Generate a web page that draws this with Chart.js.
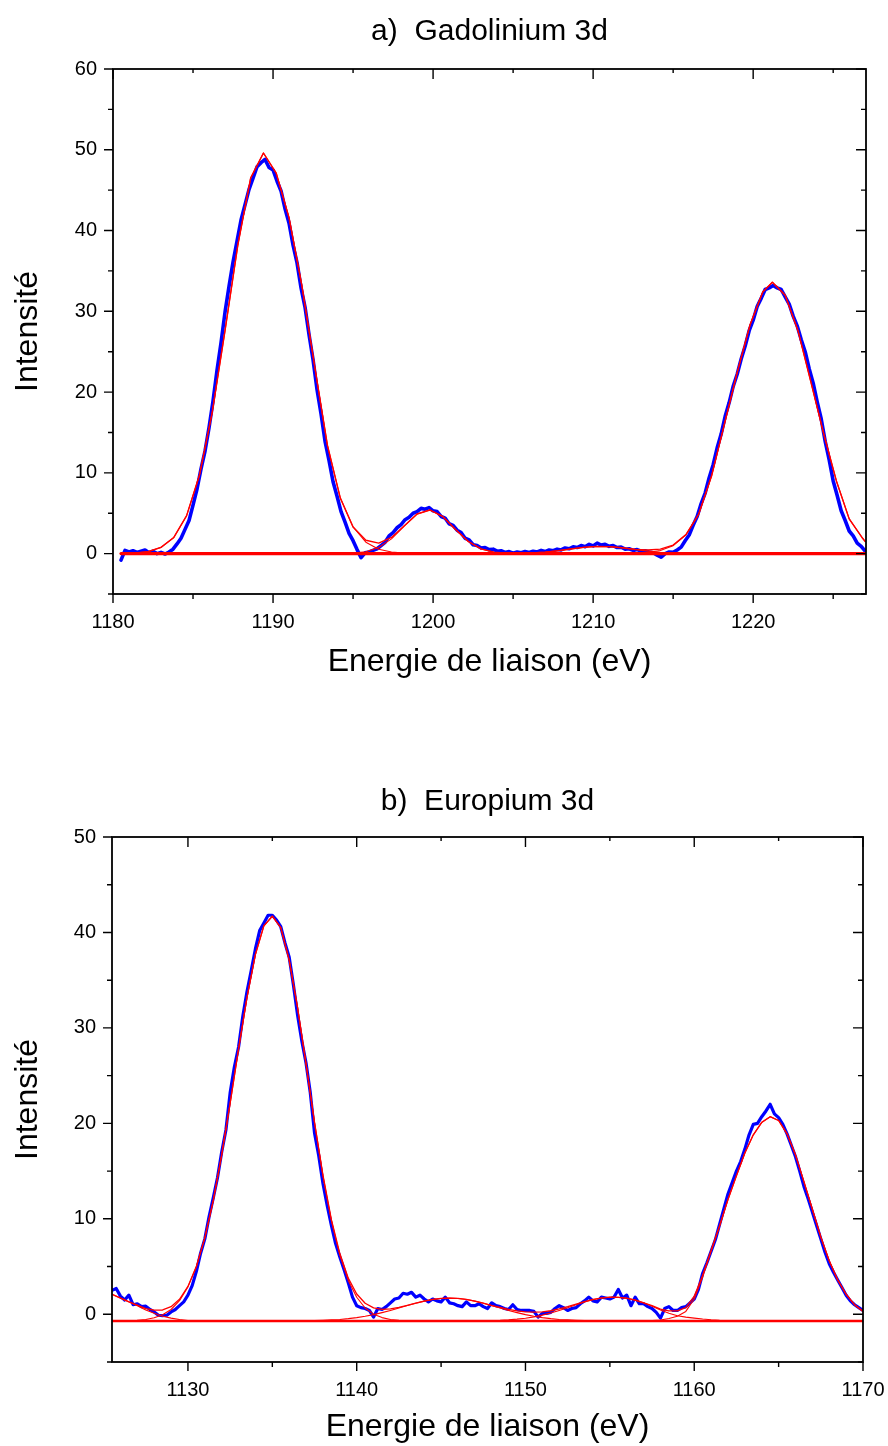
<!DOCTYPE html>
<html><head><meta charset="utf-8">
<script src="https://cdn.jsdelivr.net/npm/chart.js@4.4.1/dist/chart.umd.min.js"></script>
<style>
html,body{margin:0;padding:0;background:#fff;}
#wrap{position:relative;width:888px;height:1446px;background:#fff;}
.box{position:absolute;left:0;width:888px;}
canvas{display:block;}
</style></head><body>
<div id="wrap">
<div class="box" style="top:0;height:700px"><canvas id="cA" width="888" height="700"></canvas></div>
<div class="box" style="top:700px;height:746px"><canvas id="cB" width="888" height="746"></canvas></div>
</div>
<script>
// ---------- Titles / labels ----------
const titleA = 'a)  Gadolinium 3d';
const titleB = 'b)  Europium 3d';
const xTitle = 'Energie de liaison (eV)';
const yTitle = 'Intensité';

// tick labels
const gdXTicks = [1180, 1190, 1200, 1210, 1220];
const gdYTicks = [0, 10, 20, 30, 40, 50, 60];
const euXTicks = [1130, 1140, 1150, 1160, 1170];
const euYTicks = [0, 10, 20, 30, 40, 50];

// ---------- Chart a : Gadolinium 3d ----------
// experimental spectrum (blue)
const gdX = [1180.5,1180.75,
1181,1181.25,1181.5,1181.75, 1182,1182.25,1182.5,1182.75, 1183,1183.25,1183.5,1183.75, 1184,1184.25,1184.5,1184.75,
1185,1185.25,1185.5,1185.75, 1186,1186.25,1186.5,1186.75, 1187,1187.25,1187.5,1187.75, 1188,1188.25,1188.5,1188.75,
1189,1189.25,1189.5,1189.75, 1190,1190.25,1190.5,1190.75, 1191,1191.25,1191.5,1191.75, 1192,1192.25,1192.5,1192.75,
1193,1193.25,1193.5,1193.75, 1194,1194.25,1194.5,1194.75, 1195,1195.25,1195.5,1195.75, 1196,1196.25,1196.5,1196.75,
1197,1197.25,1197.5,1197.75, 1198,1198.25,1198.5,1198.75, 1199,1199.25,1199.5,1199.75, 1200,1200.25,1200.5,1200.75,
1201,1201.25,1201.5,1201.75, 1202,1202.25,1202.5,1202.75, 1203,1203.25,1203.5,1203.75, 1204,1204.25,1204.5,1204.75,
1205,1205.25,1205.5,1205.75, 1206,1206.25,1206.5,1206.75, 1207,1207.25,1207.5,1207.75, 1208,1208.25,1208.5,1208.75,
1209,1209.25,1209.5,1209.75, 1210,1210.25,1210.5,1210.75, 1211,1211.25,1211.5,1211.75, 1212,1212.25,1212.5,1212.75,
1213,1213.25,1213.5,1213.75, 1214,1214.25,1214.5,1214.75, 1215,1215.25,1215.5,1215.75, 1216,1216.25,1216.5,1216.75,
1217,1217.25,1217.5,1217.75, 1218,1218.25,1218.5,1218.75, 1219,1219.25,1219.5,1219.75, 1220,1220.25,1220.5,1220.75,
1221,1221.25,1221.5,1221.75, 1222,1222.25,1222.5,1222.75, 1223,1223.25,1223.5,1223.75, 1224,1224.25,1224.5,1224.75,
1225,1225.25,1225.5,1225.75, 1226,1226.25,1226.5,1226.75,
1227];
const gdY = [-0.8,0.4,
0.2,0.35,0.15,0.3, 0.45,0.1,0.3,0.0, 0.15,-0.05,0.2,0.55, 1.2,1.9,3.0,4.1,
6.0,8.0,10.5,12.7, 15.6,18.9,22.7,26.1, 29.9,33.1,36.1,38.7, 41.3,43.2,45.1,46.5,
47.9,48.4,48.8,47.8, 47.5,46.1,44.9,42.7, 40.9,38.2,36.0,32.9, 30.5,27.1,24.0,20.3,
17.3,13.9,11.5,8.9, 7.1,5.2,3.9,2.5, 1.6,0.5,-0.5,0.1, 0.2,0.4,0.6,1.0,
1.4,2.2,2.6,3.2, 3.6,4.2,4.5,5.0, 5.2,5.6,5.5,5.7, 5.3,5.2,4.6,4.4,
3.7,3.5,2.9,2.6, 1.9,1.7,1.1,1.0, 0.7,0.75,0.5,0.55, 0.3,0.35,0.15,0.25,
0.05,0.2,0.1,0.25, 0.15,0.3,0.2,0.4, 0.25,0.45,0.35,0.55, 0.45,0.7,0.6,0.85,
0.75,1.0,0.85,1.15, 0.95,1.3,1.05,1.15, 0.9,1.0,0.75,0.8, 0.55,0.6,0.4,0.5,
0.3,0.35,0.2,0.1, -0.2,-0.45,0.0,0.2, 0.15,0.45,0.8,1.6, 2.3,3.5,4.6,6.2,
7.5,9.4,11.0,13.1, 14.8,17.0,18.7,20.7, 22.2,24.1,25.7,27.6, 28.9,30.6,31.6,32.7,
32.9,33.2,32.9,32.7, 31.8,30.9,29.4,28.2, 26.5,25.0,22.9,21.1, 18.8,16.7,13.9,11.6,
9.0,7.2,5.3,4.1, 2.8,2.2,1.3,0.9,
0.3];

// fitted envelope (red)
const gdFitX = [1180.6,1181.4,1182.2,1183.0,1183.8,1184.6,1185.4,1186.2,1187.0,1187.8,
1188.6,1189.4,1190.2,1191.0,1191.8,1192.6,1193.4,1194.2,1195.0,1195.8,
1196.6,1197.4,1198.2,1199.0,1199.8,1200.6,1201.4,1202.2,1203.0,1203.8,
1204.6,1205.4,1206.2,1207.0,1207.8,1208.6,1209.4,1210.2,1211.0,1211.8,
1212.6,1213.4,1214.2,1215.0,1215.8,1216.6,1217.4,1218.2,1219.0,1219.8,
1220.6,1221.2,1222.0,1222.8,1223.6,1224.4,1225.2,1226.0,1226.8,1227.0];
const gdFitY = [0.02,0.07,0.25,0.77,2.0,4.7,9.7,17.5,27.6,38.2,
46.5,49.6,47.1,41.6,33.2,23.2,13.4,6.9,3.3,1.66,
1.3,2.0,3.46,4.9,5.4,4.6,3.0,1.5,0.58,0.18,
0.05,0.04,0.09,0.19,0.36,0.57,0.77,0.89,0.87,0.73,
0.52,0.45,0.55,1.05,2.35,4.9,9.6,16.0,22.4,28.3,
32.4,33.6,32.0,27.6,21.3,14.9,9.0,4.3,2.0,1.5];

// fitted components (red)
const gdC1X = [1180.6,1181.4,1182.2,1183.0,1183.8,1184.6,1185.4,1186.2,1187.0,1187.8,1188.6,1189.4,
1190.2,1191.0,1191.8,1192.6,1193.4,1194.2,1195.0,1195.8,1196.6,1197.4,1198.2,1199.0];
const gdC1Y = [0.02,0.07,0.25,0.77,2.0,4.7,9.7,17.5,27.6,38.2,46.5,49.6,
47.1,41.6,33.2,23.2,13.4,6.9,3.3,1.42,0.55,0.19,0.06,0.02];
const gdC2X = [1194.2,1195.0,1195.8,1196.6,1197.4,1198.2,1199.0,1199.8,1200.6,1201.4,1202.2,1203.0,1203.8,1204.6,1205.4];
const gdC2Y = [0.01,0.06,0.24,0.75,1.82,3.4,4.9,5.4,4.6,3.0,1.5,0.58,0.17,0.04,0.01];
const gdC3X = [1203.0,1203.8,1204.6,1205.4,1206.2,1207.0,1207.8,1208.6,1209.4,1210.2,1211.0,1211.8,1212.6,1213.4,1214.2,1215.0,1215.8,1216.6];
const gdC3Y = [0.0,0.003,0.012,0.035,0.09,0.19,0.36,0.57,0.77,0.89,0.87,0.73,0.52,0.31,0.16,0.07,0.03,0.01];
const gdC4X = [1211.0,1211.8,1212.6,1213.4,1214.2,1215.0,1215.8,1216.6,1217.4,1218.2,1219.0,1219.8,1220.6,1221.2,1222.0,1222.8,1223.6,1224.4,1225.2,1226.0,1226.8,1227.0];
const gdC4Y = [0.01,0.02,0.05,0.14,0.39,0.98,2.32,4.9,9.6,16.0,22.4,28.3,32.4,33.6,32.0,27.6,21.3,14.9,9.0,4.3,2.0,1.5];
// baseline
const gdBaseX = [1180.5,1227.0];
const gdBaseY = [0,0];

// ---------- Chart b : Europium 3d ----------
const euX = [1125.5,1125.75,
1126,1126.25,1126.5,1126.75, 1127,1127.25,1127.5,1127.75, 1128,1128.25,1128.5,1128.75, 1129,1129.25,1129.5,1129.75,
1130,1130.25,1130.5,1130.75, 1131,1131.25,1131.5,1131.75, 1132,1132.25,1132.5,1132.75, 1133,1133.25,1133.5,1133.75,
1134,1134.25,1134.5,1134.75, 1135,1135.25,1135.5,1135.75, 1136,1136.25,1136.5,1136.75, 1137,1137.25,1137.5,1137.75,
1138,1138.25,1138.5,1138.75, 1139,1139.25,1139.5,1139.75, 1140,1140.25,1140.5,1140.75, 1141,1141.25,1141.5,1141.75,
1142,1142.25,1142.5,1142.75, 1143,1143.25,1143.5,1143.75, 1144,1144.25,1144.5,1144.75, 1145,1145.25,1145.5,1145.75,
1146,1146.25,1146.5,1146.75, 1147,1147.25,1147.5,1147.75, 1148,1148.25,1148.5,1148.75, 1149,1149.25,1149.5,1149.75,
1150,1150.25,1150.5,1150.75, 1151,1151.25,1151.5,1151.75, 1152,1152.25,1152.5,1152.75, 1153,1153.25,1153.5,1153.75,
1154,1154.25,1154.5,1154.75, 1155,1155.25,1155.5,1155.75, 1156,1156.25,1156.5,1156.75, 1157,1157.25,1157.5,1157.75,
1158,1158.25,1158.5,1158.75, 1159,1159.25,1159.5,1159.75, 1160,1160.25,1160.5,1160.75, 1161,1161.25,1161.5,1161.75,
1162,1162.25,1162.5,1162.75, 1163,1163.25,1163.5,1163.75, 1164,1164.25,1164.5,1164.75, 1165,1165.25,1165.5,1165.75,
1166,1166.25,1166.5,1166.75, 1167,1167.25,1167.5,1167.75, 1168,1168.25,1168.5,1168.75, 1169,1169.25,1169.5,1169.75,
1170];
const euY = [2.5,2.7,
1.9,1.5,2.0,1.0, 1.1,0.8,0.85,0.5, 0.25,-0.1,-0.15,-0.1, 0.25,0.5,0.9,1.3,
2.0,3.0,4.5,6.4, 7.9,10.2,12.2,14.3, 17.0,19.3,23.2,25.9, 28.0,31.2,33.8,36.0,
38.3,40.2,41.0,41.8, 41.8,41.3,40.6,38.9, 37.4,34.5,31.3,28.6, 26.3,23.2,19.0,16.6,
13.7,11.4,9.3,7.4, 6.0,4.7,3.3,1.8, 0.9,0.7,0.6,0.4, -0.3,0.6,0.5,0.8,
1.2,1.6,1.7,2.2, 2.1,2.3,1.8,2.0, 1.6,1.3,1.6,1.4, 1.3,1.8,1.2,1.1,
0.9,0.8,1.3,0.9, 0.9,1.1,0.8,0.6, 1.2,0.9,0.8,0.6, 0.5,1.0,0.5,0.4,
0.4,0.4,0.3,-0.3, 0.1,0.1,0.2,0.6, 0.9,0.7,0.4,0.6, 0.7,1.1,1.4,1.8,
1.4,1.3,1.8,1.7, 1.6,1.8,2.6,1.7, 2.0,0.9,1.8,1.1, 1.1,0.8,0.6,0.2,
-0.4,0.6,0.8,0.4, 0.4,0.7,0.8,1.2, 1.6,2.6,4.3,5.4, 6.6,7.8,9.4,11.0,
12.6,13.8,15.0,16.0, 17.3,18.8,19.9,20.0, 20.7,21.3,22.0,21.0, 20.6,19.9,18.9,17.7,
16.5,15.0,13.4,12.1, 10.7,9.3,7.9,6.5, 5.3,4.4,3.6,2.8, 2.0,1.4,1.0,0.7,
0.4];

const euFitX = [1125.5,1126,1126.5,1127,1127.5,1128,1128.5,1129,1129.5,1130,
1130.5,1131,1131.5,1132,1132.5,1133,1133.5,1134,1134.5,1135,
1135.5,1136,1136.5,1137,1137.5,1138,1138.5,1139,1139.5,1140,
1140.5,1141,1141.5,1142,1142.5,1143,1143.5,1144,1144.5,1145,
1145.5,1146,1146.5,1147,1147.5,1148,1148.5,1149,1149.5,1150,
1150.5,1151,1151.5,1152,1152.5,1153,1153.5,1154,1154.5,1155,
1155.5,1156,1156.5,1157,1157.5,1158,1158.5,1159,1159.5,1160,
1160.5,1161,1161.5,1162,1162.5,1163,1163.5,1164,1164.5,1165,
1165.5,1166,1166.5,1167,1167.5,1168,1168.5,1169,1169.5,1170];
const euFitY = [2.1,1.7,1.3,0.96,0.6,0.43,0.45,0.8,1.57,2.92,
5.01,8.0,11.9,16.7,22.1,27.8,33.2,37.7,40.7,41.7,
40.5,37.1,32.1,26.2,20.1,14.57,9.91,6.36,3.79,2.13,
1.15,0.67,0.52,0.56,0.72,0.94,1.16,1.38,1.55,1.66,
1.7,1.66,1.55,1.38,1.16,0.91,0.72,0.52,0.36,0.25,
0.22,0.26,0.37,0.56,0.8,1.07,1.32,1.55,1.7,1.79,
1.78,1.68,1.48,1.2,0.9,0.55,0.35,0.35,0.7,1.9,
4.1,6.72,9.27,12.04,14.5,16.9,18.8,20.1,20.7,20.3,
18.9,16.7,13.9,11.0,8.1,5.6,3.6,2.1,1.01,0.3];

const euC0X = [1125.5,1126,1126.5,1127,1127.5,1128,1128.5,1129,1129.5,1130,1130.5];
const euC0Y = [2.1,1.7,1.3,0.9,0.45,0.1,-0.2,-0.4,-0.55,-0.65,-0.7];
const euC1X = [1127,1127.5,1128,1128.5,1129,1129.5,1130,1130.5,1131,1131.5,1132,1132.5,1133,1133.5,1134,1134.5,1135,
1135.5,1136,1136.5,1137,1137.5,1138,1138.5,1139,1139.5,1140,1140.5,1141,1141.5,1142,1142.5,1143,1143.5];
const euC1Y = [-0.64,-0.55,-0.37,-0.05,0.5,1.42,2.87,5.01,8.0,11.9,16.7,22.1,27.8,33.2,37.7,40.7,41.7,
40.5,37.1,32.1,26.2,20.1,14.5,9.8,6.2,3.55,1.78,0.66,0.01,-0.35,-0.54,-0.63,-0.67,-0.7];
const euC2X = [1137.5,1138,1138.5,1139,1139.5,1140,1140.5,1141,1141.5,1142,1142.5,1143,1143.5,1144,1144.5,1145,1145.5,
1146,1146.5,1147,1147.5,1148,1148.5,1149,1149.5,1150,1150.5,1151,1151.5,1152,1152.5,1153,1153.5,1154];
const euC2Y = [-0.66,-0.63,-0.59,-0.54,-0.46,-0.35,-0.21,-0.04,0.17,0.4,0.65,0.91,1.16,1.38,1.55,1.66,1.7,
1.66,1.55,1.38,1.16,0.91,0.65,0.4,0.17,-0.04,-0.21,-0.35,-0.46,-0.54,-0.59,-0.63,-0.66,-0.68];
const euC3X = [1148,1148.5,1149,1149.5,1150,1150.5,1151,1151.5,1152,1152.5,1153,1153.5,1154,1154.5,1155,
1155.5,1156,1156.5,1157,1157.5,1158,1158.5,1159,1159.5,1160,1160.5,1161,1161.5,1162];
const euC3Y = [-0.66,-0.63,-0.58,-0.51,-0.41,-0.27,-0.09,0.13,0.4,0.69,1.0,1.28,1.53,1.7,1.79,
1.78,1.68,1.48,1.2,0.85,0.45,0.1,-0.15,-0.3,-0.4,-0.5,-0.58,-0.63,-0.66];
const euC4X = [1157,1157.5,1158,1158.5,1159,1159.5,1160,1160.5,1161,1161.5,1162,1162.5,1163,1163.5,1164,1164.5,
1165,1165.5,1166,1166.5,1167,1167.5,1168,1168.5,1169,1169.5,1170];
const euC4Y = [-0.7,-0.65,-0.6,-0.45,-0.2,0.3,1.6,3.9,6.6,9.2,12.0,14.5,16.9,18.8,20.1,20.7,
20.3,18.9,16.7,13.9,11.0,8.1,5.6,3.6,2.1,1.0,0.3];
const euBaseX = [1125.5,1170];
const euBaseY = [-0.7,-0.7];

// ---------- drawing ----------
const FONT = "'Liberation Sans', Arial, Helvetica, sans-serif";
const BLUE = '#0000ff', RED = '#ff0000';

function lineDS(xs, ys, color, width, order){
  return {
    data: xs.map((x, i) => ({x: x, y: ys[i]})),
    showLine: true, borderColor: color, backgroundColor: color,
    borderWidth: width, pointRadius: 0, pointHoverRadius: 0,
    tension: 0, fill: false, order: order,
    borderJoinStyle: 'round', borderCapStyle: 'round'
  };
}

const isMajor = v => Math.abs(v % 10) < 1e-6;

const frameTicks = {
  id: 'frameTicks',
  afterDraw(chart){
    const ctx = chart.ctx, a = chart.chartArea;
    const xs = chart.scales.x, ys = chart.scales.y;
    ctx.save();
    ctx.strokeStyle = '#000';
    ctx.lineWidth = 1.4;
    ctx.beginPath();
    for (let v = Math.ceil(xs.min / 5) * 5; v <= xs.max + 1e-6; v += 5) {
      const p = xs.getPixelForValue(v);
      const M = isMajor(v);
      ctx.moveTo(p, a.bottom); ctx.lineTo(p, a.bottom + (M ? 9 : 5));
      ctx.moveTo(p, a.top); ctx.lineTo(p, a.top + (M ? 10 : 4));
    }
    for (let v = Math.ceil(ys.min / 5) * 5; v <= ys.max + 1e-6; v += 5) {
      const p = ys.getPixelForValue(v);
      const M = isMajor(v);
      ctx.moveTo(a.left - (M ? 9 : 5), p); ctx.lineTo(a.left, p);
      ctx.moveTo(a.right - (M ? 10 : 5), p); ctx.lineTo(a.right, p);
    }
    ctx.stroke();
    ctx.lineWidth = 1.8;
    ctx.strokeRect(a.left, a.top, a.right - a.left, a.bottom - a.top);
    ctx.restore();
  }
};

function makeChart(id, cfg, datasets){
  return new Chart(document.getElementById(id), {
    type: 'scatter',
    data: { datasets: datasets },
    plugins: [frameTicks],
    options: {
      responsive: false, animation: false, devicePixelRatio: 1,
      events: [],
      layout: { padding: { left: 0, right: cfg.padRight, top: 0, bottom: 0 } },
      plugins: {
        legend: { display: false },
        tooltip: { enabled: false },
        title: {
          display: true, text: cfg.title, color: '#000', fullSize: false,
          font: { family: FONT, size: 30, weight: 'normal' },
          padding: { top: cfg.titleTop, bottom: cfg.titleBottom }
        }
      },
      scales: {
        x: {
          type: 'linear', min: cfg.xMin, max: cfg.xMax,
          ticks: { color: '#000', font: { family: FONT, size: 20 }, padding: 7, maxRotation: 0, autoSkip: false,
                   callback: v => String(v) },
          grid: { display: true, drawOnChartArea: false, drawTicks: true, tickLength: 9, color: 'rgba(0,0,0,0)' },
          border: { display: false },
          title: { display: true, text: xTitle, color: '#000', font: { family: FONT, size: 32 }, padding: { top: 0, bottom: cfg.xTitleBottom } },
          afterBuildTicks: s => { s.ticks = cfg.xTicks.map(v => ({ value: v })); },
          afterFit: s => { s.height = cfg.xHeight; s.paddingLeft = 0; s.paddingRight = 0; }
        },
        y: {
          type: 'linear', min: -5, max: cfg.yMax,
          ticks: { color: '#000', font: { family: FONT, size: 20 }, padding: 7, autoSkip: false,
                   callback: v => String(v) },
          grid: { display: true, drawOnChartArea: false, drawTicks: true, tickLength: 9, color: 'rgba(0,0,0,0)' },
          border: { display: false },
          title: { display: true, text: yTitle, color: '#000', font: { family: FONT, size: 32 }, padding: { top: 9, bottom: 0 } },
          afterBuildTicks: s => { s.ticks = cfg.yTicks.map(v => ({ value: v })); },
          afterFit: s => { s.width = cfg.yWidth; }
        }
      }
    }
  });
}

makeChart('cA', {
  title: titleA, titleTop: 14, titleBottom: 19, padRight: 22,
  xMin: 1180, xMax: 1227.05, yMax: 60, xHeight: 106, xTitleBottom: 19, yWidth: 113,
  xTicks: gdXTicks, yTicks: gdYTicks
}, [
  lineDS(gdBaseX, gdBaseY, RED, 3.2, 1),
  lineDS(gdFitX, gdFitY, RED, 1.4, 2),
  lineDS(gdC1X, gdC1Y, RED, 1.1, 3),
  lineDS(gdC2X, gdC2Y, RED, 1.1, 3),
  lineDS(gdC3X, gdC3Y, RED, 1.1, 3),
  lineDS(gdC4X, gdC4Y, RED, 1.1, 3),
  lineDS(gdX, gdY, BLUE, 3.6, 10)
]);

makeChart('cB', {
  title: titleB, titleTop: 84, titleBottom: 17, padRight: 25,
  xMin: 1125.5, xMax: 1170, yMax: 50, xHeight: 84, xTitleBottom: 0, yWidth: 112,
  xTicks: euXTicks, yTicks: euYTicks
}, [
  lineDS(euBaseX, euBaseY, RED, 2.4, 1),
  lineDS(euFitX, euFitY, RED, 1.3, 2),
  lineDS(euC0X, euC0Y, RED, 1.1, 3),
  lineDS(euC1X, euC1Y, RED, 1.1, 3),
  lineDS(euC2X, euC2Y, RED, 1.1, 3),
  lineDS(euC3X, euC3Y, RED, 1.1, 3),
  lineDS(euC4X, euC4Y, RED, 1.1, 3),
  lineDS(euX, euY, BLUE, 3.2, 10)
]);
</script>
</body></html>
